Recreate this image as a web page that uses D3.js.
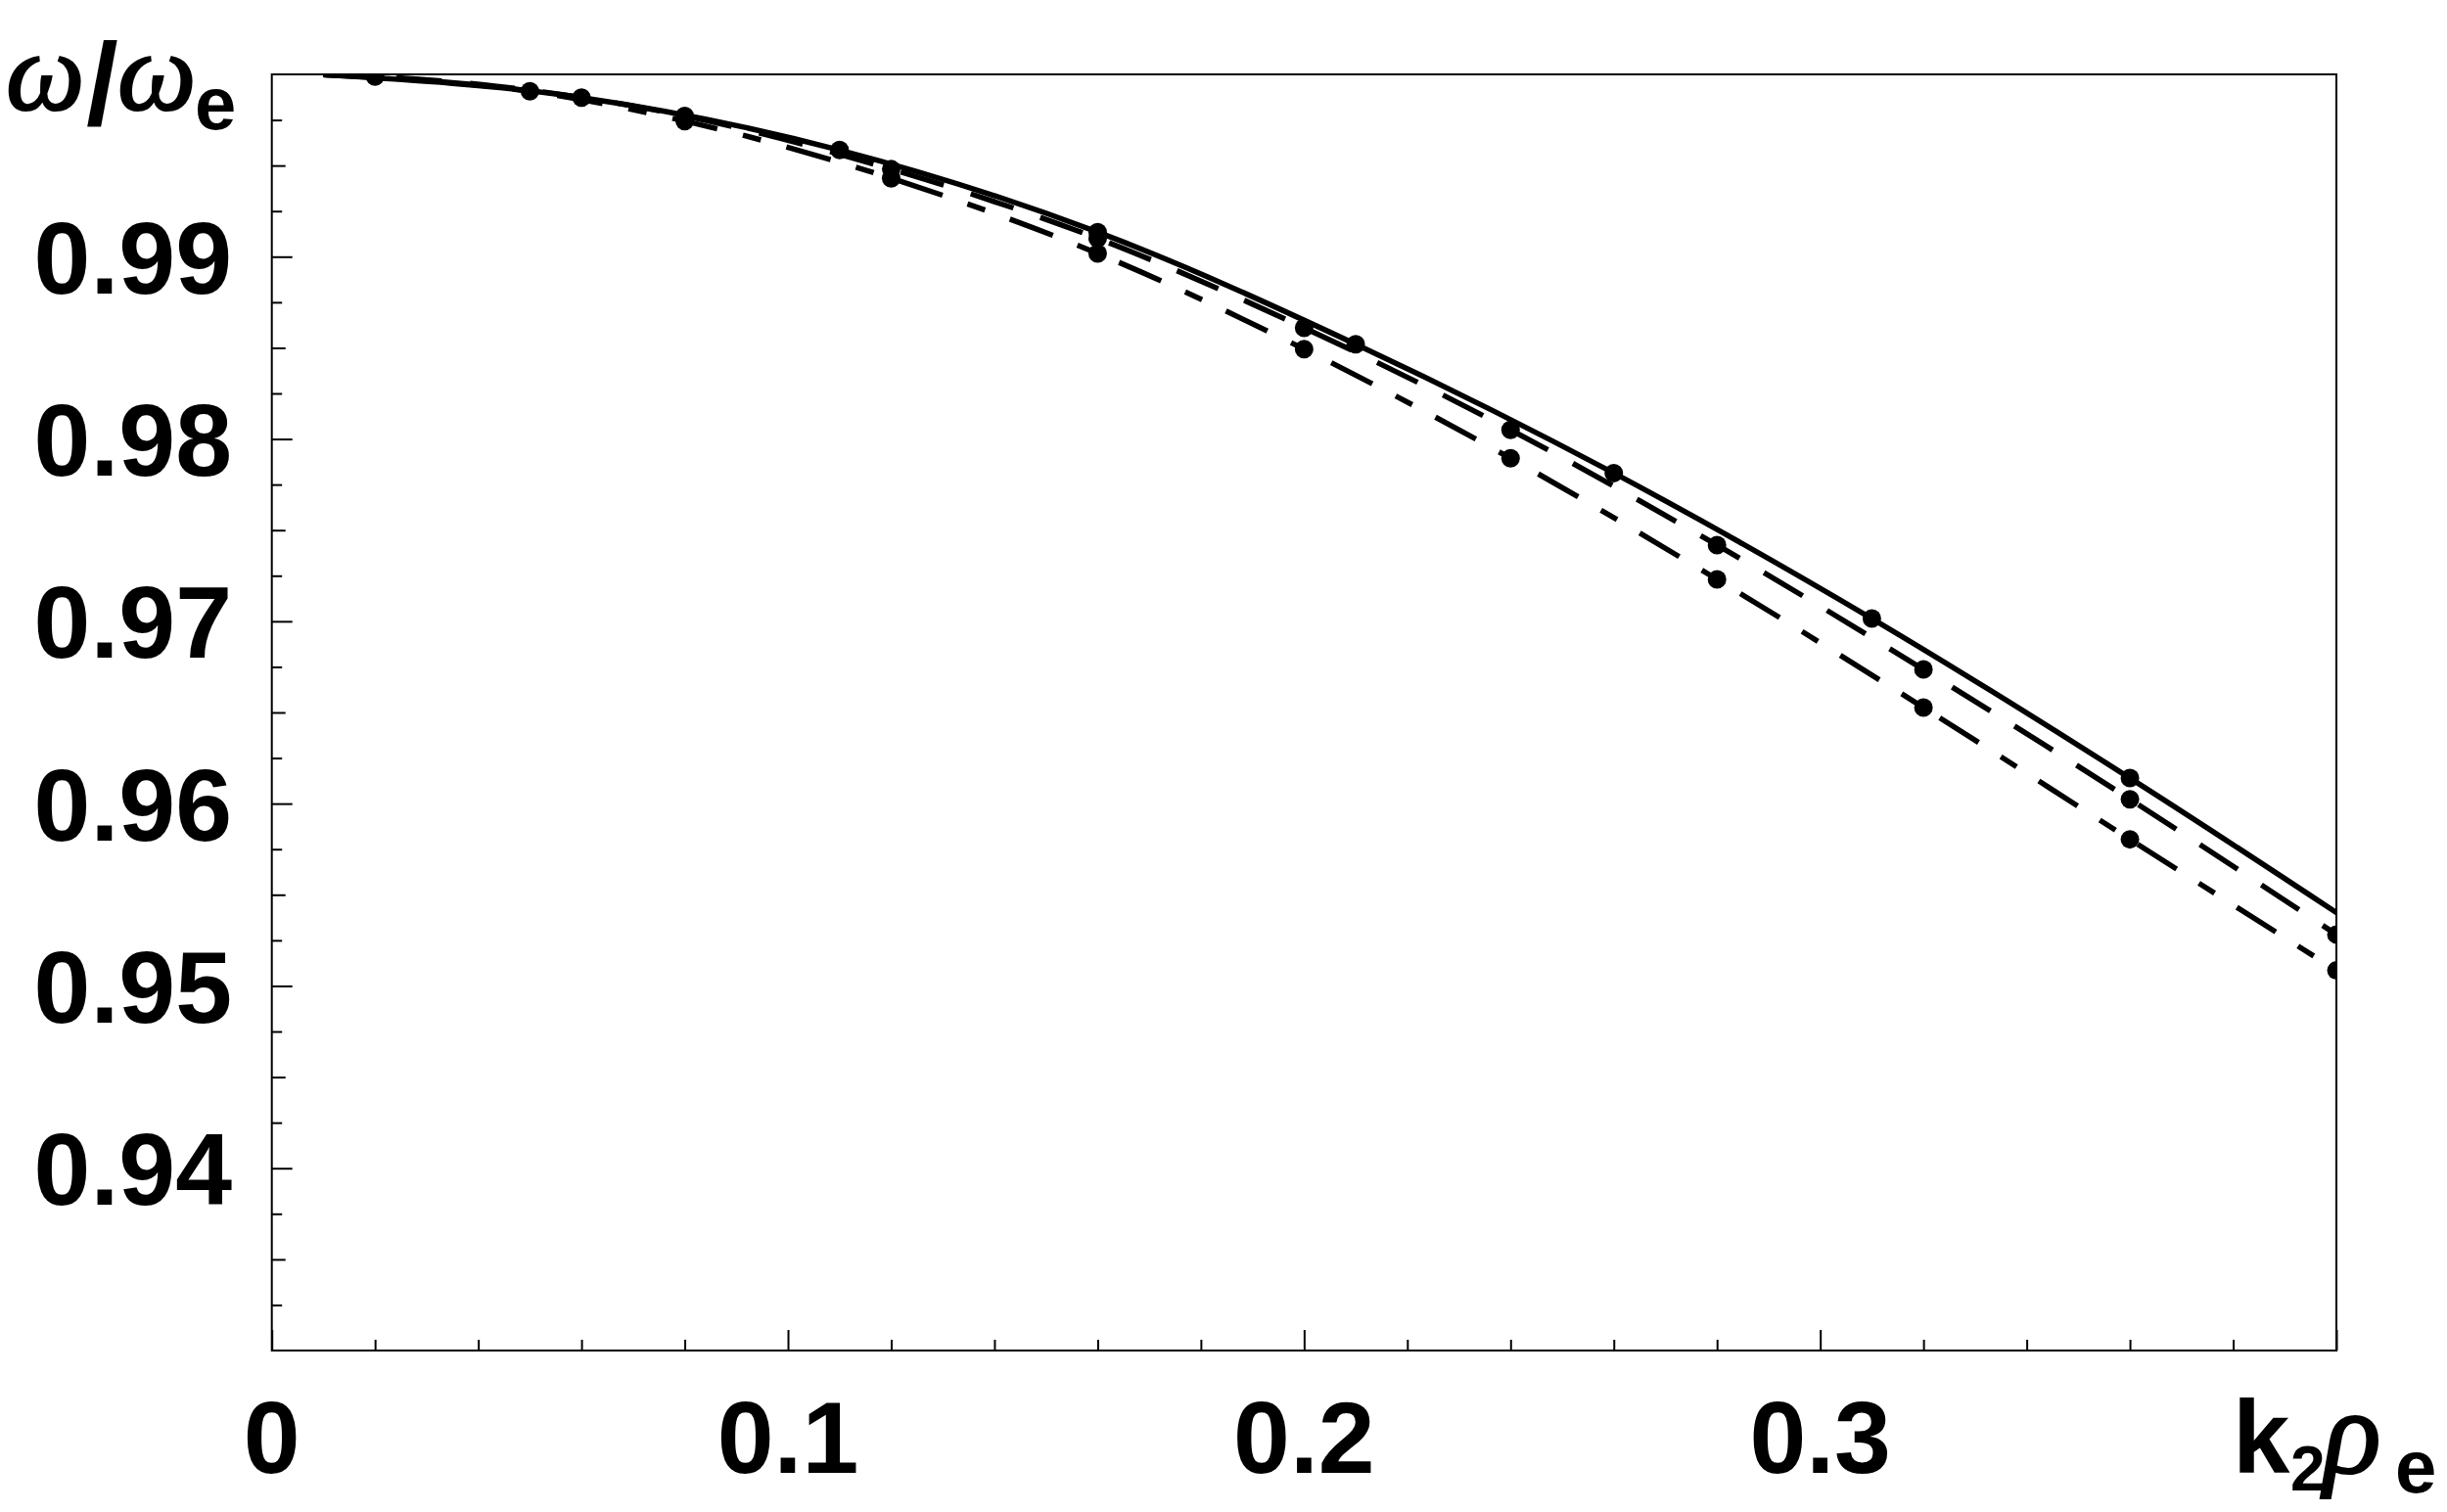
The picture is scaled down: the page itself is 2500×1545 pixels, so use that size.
<!DOCTYPE html>
<html>
<head>
<meta charset="utf-8">
<script src="https://cdn.jsdelivr.net/npm/d3@7/dist/d3.min.js"></script>
<style>
  html, body { margin: 0; padding: 0; background: #fff; }
  svg { display: block; }
</style>
</head>
<body>
<svg id="chart" width="2500" height="1545"></svg>
<script>
// ---------- data ----------
const xDomain = [0, 0.4];
const yDomain = [0.93, 1.0];

const xMajorTicks = [0, 0.1, 0.2, 0.3, 0.4];
const xMinorTicks = [0.02, 0.04, 0.06, 0.08, 0.12, 0.14, 0.16, 0.18, 0.22, 0.24, 0.26, 0.28, 0.32, 0.34, 0.36, 0.38];
const xTickLabels = ["0", "0.1", "0.2", "0.3"];
const xTickLabelValues = [0, 0.1, 0.2, 0.3];

const yMajorTicks = [0.94, 0.95, 0.96, 0.97, 0.98, 0.99];
const yHalfTicks = [0.935, 0.945, 0.955, 0.965, 0.975, 0.985, 0.995];
const yQuarterTicks = [0.9325, 0.9375, 0.9425, 0.9475, 0.9525, 0.9575, 0.9625, 0.9675, 0.9725, 0.9775, 0.9825, 0.9875, 0.9925, 0.9975];
const yTickLabels = ["0.94", "0.95", "0.96", "0.97", "0.98", "0.99"];

// solid curve
const kSolid = [0.01, 0.06, 0.11, 0.16, 0.21, 0.26, 0.31, 0.36, 0.41];
const wSolid = [0.99998, 0.99873, 0.99585, 0.99135, 0.98520, 0.97813, 0.97015, 0.96140, 0.95215];
// dashed curve
const kDashed = [0.01, 0.02, 0.08, 0.12, 0.16, 0.20, 0.24, 0.28, 0.32, 0.36, 0.40];
const wDashed = [0.99998, 0.99988, 0.99772, 0.99480, 0.99100, 0.98610, 0.98050, 0.97418, 0.96736, 0.96024, 0.95282];
// dash-dot curve
const kDashDot = [0.01, 0.05, 0.08, 0.12, 0.16, 0.20, 0.24, 0.28, 0.32, 0.36, 0.40];
const wDashDot = [0.99998, 0.99907, 0.99744, 0.99430, 0.99018, 0.98493, 0.97894, 0.97230, 0.96527, 0.95804, 0.95085];

// ---------- layout ----------
const svg = d3.select("#chart");
const L = 277.7, R = 2387, T = 76, B = 1380;
const x = d3.scaleLinear().domain(xDomain).range([L, R]);
const y = d3.scaleLinear().domain(yDomain).range([B, T]);

const sans = "'Liberation Sans', Arial, Helvetica, sans-serif";
const serif = "'Liberation Serif', 'Times New Roman', serif";

svg.append("defs").append("clipPath").attr("id", "plotclip")
  .append("rect").attr("x", L).attr("y", T).attr("width", R - L).attr("height", B - T);

// ---------- axes ticks (inward) ----------
function tickAxis(axisFn, scale, values, size, tr) {
  const g = svg.append("g").attr("transform", tr)
    .call(axisFn(scale).tickValues(values).tickSize(size).tickFormat(""));
  g.select(".domain").remove();
  g.selectAll(".tick line").attr("stroke", "#000").attr("stroke-width", 2);
  return g;
}
tickAxis(d3.axisTop, x, xMajorTicks, 21, `translate(0,${B})`);
tickAxis(d3.axisTop, x, xMinorTicks, 11, `translate(0,${B})`);
tickAxis(d3.axisRight, y, yMajorTicks, 21, `translate(${L},0)`);
tickAxis(d3.axisRight, y, yHalfTicks, 14, `translate(${L},0)`);
tickAxis(d3.axisRight, y, yQuarterTicks, 10.5, `translate(${L},0)`);

// frame
svg.append("rect").attr("x", L).attr("y", T).attr("width", R - L).attr("height", B - T)
  .attr("fill", "none").attr("stroke", "#000").attr("stroke-width", 2);

// ---------- tick labels ----------
svg.append("g").selectAll("text").data(yTickLabels).join("text")
  .attr("x", 237).attr("y", (d, i) => y(yMajorTicks[i]) + 37.5)
  .attr("text-anchor", "end")
  .attr("font-family", sans).attr("font-weight", "bold").attr("font-size", 104)
  .text(d => d);

svg.append("g").selectAll("text").data(xTickLabels).join("text")
  .attr("x", (d, i) => x(xTickLabelValues[i])).attr("y", 1505)
  .attr("text-anchor", "middle")
  .attr("font-family", sans).attr("font-weight", "bold").attr("font-size", 104)
  .text(d => d);

// ---------- axis titles ----------
function greek(g, ch, xx, yy, size) {
  g.append("text").attr("x", xx).attr("y", yy)
    .attr("font-family", serif).attr("font-style", "italic").attr("font-size", size)
    .attr("stroke", "#000").attr("stroke-width", 2.2).attr("fill", "#000")
    .text(ch);
}
function sub(g, t, xx, yy, size, weight) {
  g.append("text").attr("x", xx).attr("y", yy)
    .attr("font-family", sans).attr("font-weight", weight || "bold").attr("font-size", size)
    .text(t);
}
const yTitle = svg.append("g");
greek(yTitle, "ω", 6, 112, 114);
sub(yTitle, "/", 88, 127, 118);
greek(yTitle, "ω", 120, 112, 114);
sub(yTitle, "e", 199, 132, 76);

const xTitle = svg.append("g");
sub(xTitle, "k", 2281, 1505, 105);
sub(xTitle, "2", 2340, 1523, 64);
greek(xTitle, "ρ", 2374, 1505, 122);
sub(xTitle, "e", 2447, 1525, 76);

// ---------- curves ----------
const series = [
  { k: kSolid, w: wSolid, dash: null },
  { k: kDashed, w: wDashed, dash: "46,29" },
  { k: kDashDot, w: wDashDot, dash: "47,27,19,27" }
];

const line = d3.line().x(d => x(d[0])).y(d => y(d[1])).curve(d3.curveMonotoneX);
const plot = svg.append("g").attr("clip-path", "url(#plotclip)");

series.forEach(s => {
  const pts = s.k.map((k, i) => [k, s.w[i]]);
  plot.append("path").datum(pts)
    .attr("d", line)
    .attr("fill", "none").attr("stroke", "#000").attr("stroke-width", 5.5)
    .attr("stroke-linecap", "butt")
    .attr("stroke-dasharray", s.dash);
  plot.append("g").selectAll("circle").data(pts.slice(1)).join("circle")
    .attr("cx", d => x(d[0])).attr("cy", d => y(d[1])).attr("r", 9.5)
    .attr("fill", "#000");
});
</script>
</body>
</html>
